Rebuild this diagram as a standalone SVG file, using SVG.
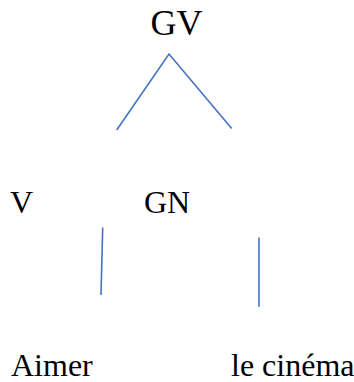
<svg xmlns="http://www.w3.org/2000/svg" width="354" height="382" viewBox="0 0 354 382">
  <style>
    .lbl { font-family: "Liberation Serif", "Times New Roman", serif; fill: #000; }
    .big { font-size: 36px; }
    .sm { font-size: 32px; }
    .edge { stroke: #4472C4; stroke-width: 1.6; fill: none; stroke-linecap: butt; }
  </style>
  <rect width="354" height="382" fill="#fff"/>
  <g id="connectors">
    <polyline class="edge" points="116.7,130 169,54 231.7,128.5"/>
    <line class="edge" x1="102.7" y1="227.5" x2="101" y2="295"/>
    <line class="edge" x1="259" y1="237.5" x2="259" y2="306.7"/>
  </g>
  <g id="node-gv"><text class="lbl big" x="150.5" y="35">GV</text></g>
  <g id="node-v"><text class="lbl sm" x="10" y="212.5">V</text></g>
  <g id="node-gn"><text class="lbl sm" x="144" y="212.5">GN</text></g>
  <g id="node-aimer"><text class="lbl sm" x="11" y="376">Aimer</text></g>
  <g id="node-le-cinema"><text class="lbl sm" x="231" y="376">le cinéma</text></g>
</svg>
